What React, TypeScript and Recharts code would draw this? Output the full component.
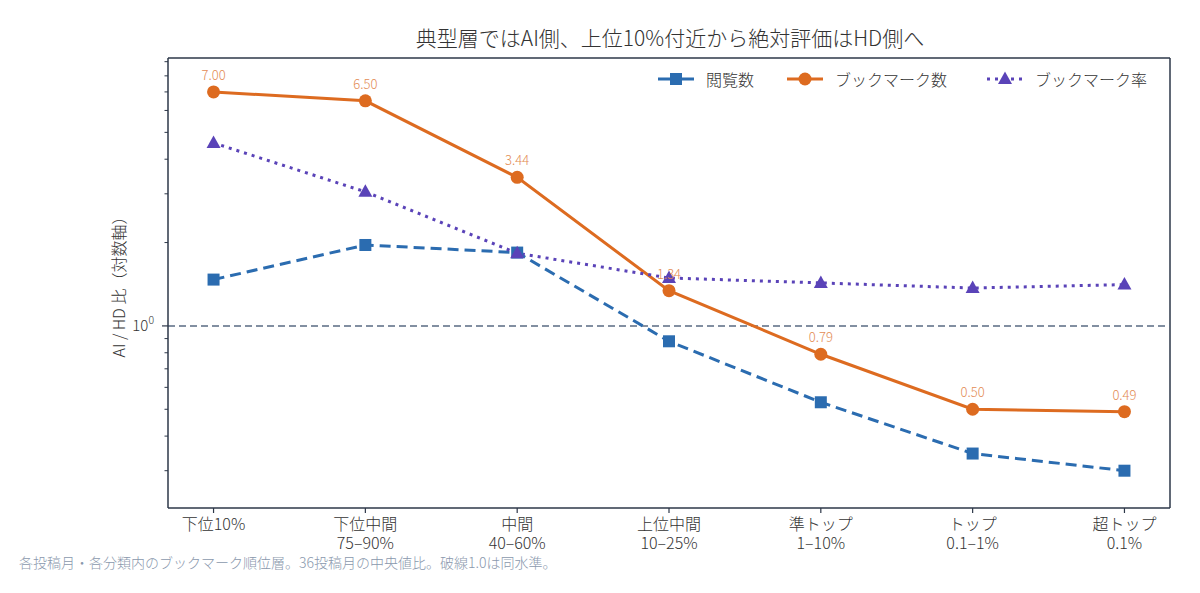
import React from "react";
import { LineChart, Line, XAxis, YAxis, ReferenceLine, LabelList } from "recharts";

// rank tiers (x axis), two-line labels
const categories = ["下位10%", "下位中間", "中間", "上位中間", "準トップ", "トップ", "超トップ"];
const rangeLabels = ["", "75–90%", "40–60%", "10–25%", "1–10%", "0.1–1%", "0.1%"];

// AI / HD median ratios
const views = [1.47, 1.96, 1.84, 0.88, 0.53, 0.346, 0.3];
const bookmarks = [7.0, 6.5, 3.44, 1.34, 0.79, 0.5, 0.49];
const bookmarkRate = [4.58, 3.05, 1.83, 1.49, 1.43, 1.37, 1.41];

// log axis ticks: 10^0 is labelled, the rest are minor
const yTicks = [0.3, 0.4, 0.5, 0.6, 0.7, 0.8, 0.9, 1, 2, 3, 4, 5, 6, 7, 8, 9];
const xTicks = categories.map((_, i) => i);

const X_DOMAIN = [-0.3, 6.3];
const Y_DOMAIN = [0.22, 9.28];

const BLUE = "#2b6cb0";
const ORANGE = "#dd6b20";
const PURPLE = "#5a43b8";
const SPINE = "#2d3748";
const TEXT = "#333333";
const FONT = "'Noto Sans CJK JP', 'Noto Sans', sans-serif";
const WEIGHT = 300;

const data = categories.map((name, i) => ({
  x: i,
  name,
  views: views[i],
  bookmarks: bookmarks[i],
  bookmarkRate: bookmarkRate[i],
}));

const SquareDot = (props: any) => {
  const { cx, cy, index } = props;
  if (cx == null || cy == null) return null;
  return <rect key={`sq-${index}`} x={cx - 6} y={cy - 6} width={12} height={12} fill={BLUE} />;
};

const CircleDot = (props: any) => {
  const { cx, cy, index } = props;
  if (cx == null || cy == null) return null;
  return <circle key={`ci-${index}`} cx={cx} cy={cy} r={6.5} fill={ORANGE} />;
};

const TriangleDot = (props: any) => {
  const { cx, cy, index } = props;
  if (cx == null || cy == null) return null;
  return (
    <polygon
      key={`tr-${index}`}
      points={`${cx},${cy - 7.5} ${cx + 7},${cy + 5} ${cx - 7},${cy + 5}`}
      fill={PURPLE}
    />
  );
};

const XTick = (props: any) => {
  const { x, y, payload } = props;
  const i = payload.value as number;
  return (
    <text x={x} y={y + 13} textAnchor="middle" fontSize={16} fontWeight={WEIGHT} fill={TEXT} fontFamily={FONT}>
      <tspan x={x}>{categories[i]}</tspan>
      {rangeLabels[i] && (
        <tspan x={x} dy={19}>
          {rangeLabels[i]}
        </tspan>
      )}
    </text>
  );
};

const YTick = (props: any) => {
  const { x, y, payload } = props;
  const major = payload.value === 1;
  return (
    <g>
      <line x1={x} x2={x - (major ? 6 : 3.5)} y1={y} y2={y} stroke={SPINE} strokeWidth={major ? 1.2 : 1} />
      {major && (
        <text x={x - 14} y={y + 5} textAnchor="end" fontSize={15} fontWeight={WEIGHT} fill={TEXT} fontFamily={FONT}>
          10
          <tspan dy={-7} fontSize={10.5}>
            0
          </tspan>
        </text>
      )}
    </g>
  );
};

const LegendIcon = ({ color, dash, marker }: { color: string; dash?: string; marker: string }) => (
  <svg width={38} height={16} style={{ marginRight: 11 }}>
    <line x1={1} x2={37} y1={8} y2={8} stroke={color} strokeWidth={3} strokeDasharray={dash} />
    {marker === "square" && <rect x={13} y={2} width={12} height={12} fill={color} />}
    {marker === "circle" && <circle cx={19} cy={8} r={6.5} fill={color} />}
    {marker === "triangle" && <polygon points="19,0.5 26,13 12,13" fill={color} />}
  </svg>
);

const legendItems = [
  { label: "閲覧数", color: BLUE, dash: undefined, marker: "square", left: 657 },
  { label: "ブックマーク数", color: ORANGE, dash: undefined, marker: "circle", left: 786 },
  { label: "ブックマーク率", color: PURPLE, dash: "3 5", marker: "triangle", left: 986 },
];

export default function App() {
  return (
    <div
      style={{
        position: "absolute",
        left: 0,
        top: 0,
        width: 1200,
        height: 593,
        background: "#fff",
        fontFamily: FONT,
        fontWeight: WEIGHT,
      }}
    >
      {/* title */}
      <div
        style={{
          position: "absolute",
          left: 169,
          width: 1002,
          top: 23,
          textAlign: "center",
          fontSize: 21,
          color: TEXT,
          lineHeight: "28px",
        }}
      >
        典型層ではAI側、上位10%付近から絶対評価はHD側へ
      </div>

      {/* y axis label */}
      <div
        style={{
          position: "absolute",
          left: 118,
          top: 283,
          transform: "translate(-50%, -50%) rotate(-90deg)",
          whiteSpace: "nowrap",
          fontSize: 16,
          color: TEXT,
        }}
      >
        AI / HD 比（対数軸）
      </div>

      <LineChart
        width={1200}
        height={593}
        data={data}
        margin={{ top: 58, right: 30, bottom: 55, left: 108 }}
      >
        <XAxis
          dataKey="x"
          type="number"
          domain={X_DOMAIN}
          ticks={xTicks}
          allowDataOverflow
          height={30}
          tickSize={5}
          tickMargin={4}
          tick={<XTick />}
          axisLine={{ stroke: SPINE, strokeWidth: 1.5 }}
          tickLine={{ stroke: SPINE, strokeWidth: 1.2 }}
        />
        <YAxis
          scale="log"
          type="number"
          domain={Y_DOMAIN}
          allowDataOverflow
          ticks={yTicks}
          interval={0}
          width={60}
          tickSize={0}
          tickMargin={0}
          tickLine={false}
          tick={<YTick />}
          axisLine={{ stroke: SPINE, strokeWidth: 1.5 }}
        />
        {/* top and right spines */}
        <ReferenceLine y={Y_DOMAIN[1]} stroke={SPINE} strokeWidth={1.5} />
        <ReferenceLine x={X_DOMAIN[1]} stroke={SPINE} strokeWidth={1.5} />
        <ReferenceLine y={1} stroke="#5a6b82" strokeWidth={1.5} strokeDasharray="7 4" />
        <Line
          dataKey="views"
          stroke={BLUE}
          strokeWidth={3}
          strokeDasharray="11 6"
          dot={SquareDot}
          activeDot={false}
          isAnimationActive={false}
        />
        <Line
          dataKey="bookmarks"
          stroke={ORANGE}
          strokeWidth={3}
          dot={CircleDot}
          activeDot={false}
          isAnimationActive={false}
        >
          <LabelList
            dataKey="bookmarks"
            position="top"
            offset={12}
            fontSize={13}
            fontWeight={WEIGHT}
            fill="#e38c55"
            fontFamily={FONT}
            formatter={(v: any) => Number(v).toFixed(2)}
          />
        </Line>
        <Line
          dataKey="bookmarkRate"
          stroke={PURPLE}
          strokeWidth={3}
          strokeDasharray="3 5"
          dot={TriangleDot}
          activeDot={false}
          isAnimationActive={false}
        />
      </LineChart>

      {/* legend */}
      {legendItems.map((item) => (
        <div
          key={item.label}
          style={{
            position: "absolute",
            left: item.left,
            top: 67,
            display: "flex",
            alignItems: "center",
            fontSize: 16,
            color: TEXT,
            whiteSpace: "nowrap",
            height: 24,
          }}
        >
          <LegendIcon color={item.color} dash={item.dash} marker={item.marker} />
          {item.label}
        </div>
      ))}

      {/* footnote */}
      <div
        style={{
          position: "absolute",
          left: 19,
          top: 552,
          fontSize: 14,
          color: "#8a98ad",
          whiteSpace: "nowrap",
        }}
      >
        各投稿月・各分類内のブックマーク順位層。36投稿月の中央値比。破線1.0は同水準。
      </div>
    </div>
  );
}
